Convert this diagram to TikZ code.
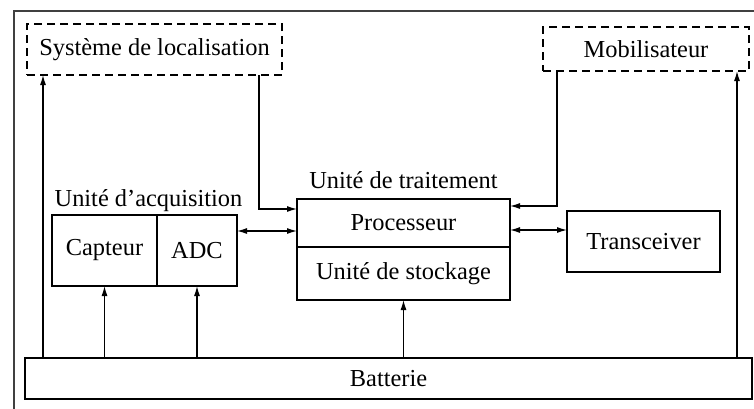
\documentclass[tikz,border=0pt]{standalone}
\usepackage{fontspec}
\setmainfont{Liberation Serif}
\usetikzlibrary{arrows.meta,positioning,calc}

\begin{document}
\begin{tikzpicture}[x=.5pt,y=-.5pt,
  font=\fontsize{12.2}{14}\selectfont,
  every node/.style={inner sep=0pt,outer sep=0pt,align=center},%
  bx/.style={draw,line width=.6pt},%
  dbx/.style={draw,line width=.6pt,dash pattern=on 4pt off 2.5pt},%
  lbl/.style={inner sep=1pt,text depth=0pt},%
  e/.style={-{Latex[length=5pt,width=3pt]},line width=.6pt},%
  ee/.style={{Latex[length=5pt,width=3pt]}-{Latex[length=5pt,width=3pt]},line width=.6pt},%
  ]
  \useasboundingbox (0,0) rectangle (754,408);
  \draw[line width=1pt,black!75] (14,412) |- (758,11);

  % external parts
  \node (loc) [dbx,minimum width=127.5pt,minimum height=25.5pt] at (154.5,49.5) {Système de localisation};
  \node (mob) [dbx,minimum width=103pt,minimum height=22pt] at (646,49) {Mobilisateur};

  % sensor node
  \node (capt) [bx,minimum width=52.5pt,minimum height=35.5pt] at (104.5,250.5) {Capteur};
  \node (adc) [bx,right=0pt of capt,minimum width=40pt,minimum height=35.5pt] {ADC};
  \node (proc) [bx,minimum width=106.5pt,minimum height=24pt] at (403.5,223) {Processeur};
  \node (stock) [bx,below=0pt of proc,minimum width=106.5pt,minimum height=26.5pt] {Unité de stockage};
  \node (trans) [bx,minimum width=76.5pt,minimum height=30.5pt] at (643.5,241.5) {Transceiver};
  \node (bat) [bx,minimum width=363.5pt,minimum height=20.5pt] at (388.5,378.5) {Batterie};

  \coordinate (acqtop) at ($(capt.north west)!.5!(adc.north east)$);
  \node (acq) [lbl,above=3.5pt of acqtop,xshift=2pt] {Unité d’acquisition};
  \node (trt) [lbl,above=4.5pt of proc.north] {Unité de traitement};

  % connections
  \coordinate (l1) at (43,0);
  \coordinate (l2) at (259,209);
  \coordinate (m1) at (557,206);
  \coordinate (m2) at (737,0);
  \coordinate (a1) at (0,231);
  \coordinate (t1) at (0,230);
  \draw [e] (bat.north -| l1) -- (loc.south -| l1);
  \draw [e] (loc.south -| l2) |- (proc.west |- l2);
  \draw [e] (mob.south -| m1) |- (proc.east |- m1);
  \draw [e] (bat.north -| m2) -- (mob.south -| m2);
  \draw [ee] (adc.east |- a1) -- (proc.west |- a1);
  \draw [ee] (proc.east |- t1) -- (trans.west |- t1);
  \draw [e] (bat.north -| capt) -- (capt.south);
  \draw [e] (bat.north -| adc) -- (adc.south);
  \draw [e] (bat.north -| stock) -- (stock.south);
\end{tikzpicture}
\end{document}
